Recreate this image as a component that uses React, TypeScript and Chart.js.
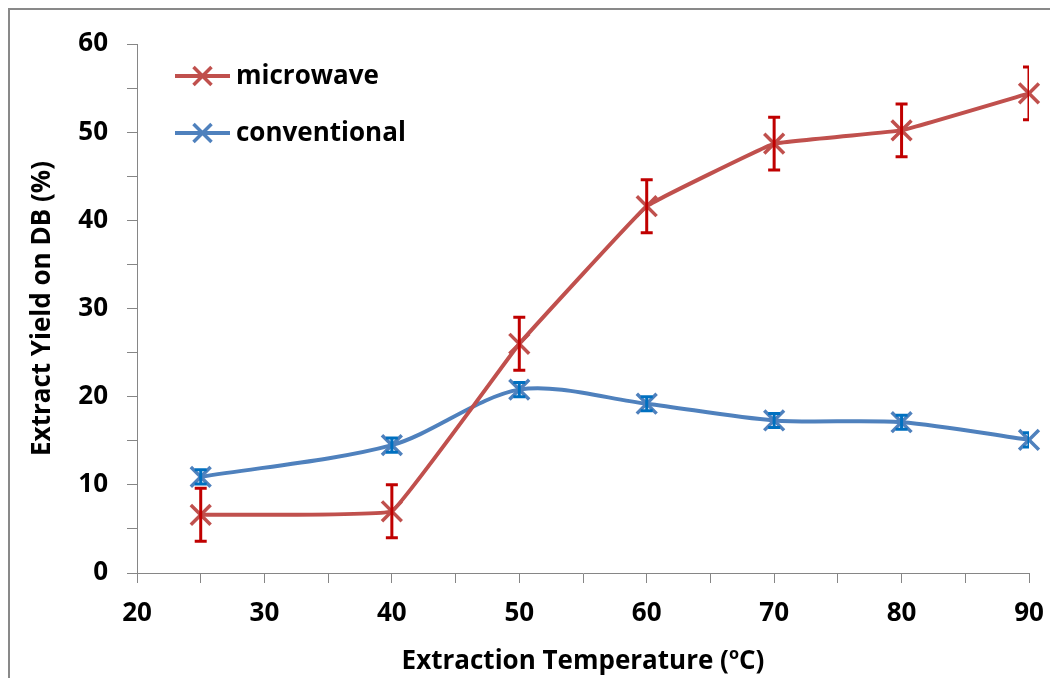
import React, { useEffect, useRef } from "react";
import { Chart, registerables } from "chart.js";

Chart.register(...registerables);

const temperatures = [25, 40, 50, 60, 70, 80, 90];
const microwaveYield = [6.6, 7.0, 26.0, 41.6, 48.7, 50.2, 54.4];
const microwaveError = [3, 3, 3, 3, 3, 3, 3];
const conventionalYield = [10.9, 14.5, 20.8, 19.2, 17.3, 17.1, 15.1];
const conventionalError = [0.8, 0.8, 0.8, 0.8, 0.8, 0.8, 0.8];
const seriesNames = ["microwave", "conventional"];
const xTitle = "Extraction Temperature (ºC)";
const yTitle = "Extract Yield on DB (%)";

const FONT = "'Open Sans', sans-serif";
const RED = "#C0504D";
const RED_ERR = "#C00000";
const BLUE = "#4F81BD";
const BLUE_ERR = "#0070C0";
const AXIS = "#868686";

const errorBarPlugin = {
  id: "errorBars",
  afterDatasetsDraw(chart: any) {
    const { ctx, chartArea, scales } = chart;
    const xs = scales.x;
    const ys = scales.y;
    const sets = [
      { vals: microwaveYield, errs: microwaveError, color: RED_ERR },
      { vals: conventionalYield, errs: conventionalError, color: BLUE_ERR },
    ];
    ctx.save();
    ctx.beginPath();
    ctx.rect(chartArea.left, chartArea.top - 20, chartArea.right - chartArea.left, chartArea.bottom - chartArea.top + 20);
    ctx.clip();
    sets.forEach((s) => {
      ctx.strokeStyle = s.color;
      ctx.lineWidth = 3;
      s.vals.forEach((v, i) => {
        const x = xs.getPixelForValue(temperatures[i]);
        const yt = ys.getPixelForValue(v + s.errs[i]);
        const yb = ys.getPixelForValue(v - s.errs[i]);
        ctx.beginPath();
        ctx.moveTo(x, yt);
        ctx.lineTo(x, yb);
        ctx.moveTo(x - 6, yt);
        ctx.lineTo(x + 6, yt);
        ctx.moveTo(x - 6, yb);
        ctx.lineTo(x + 6, yb);
        ctx.stroke();
      });
    });
    ctx.restore();
  },
};

const legendPlugin = {
  id: "innerLegend",
  afterDraw(chart: any) {
    const { ctx, chartArea } = chart;
    const items = [
      { name: seriesNames[0], color: RED, dy: 32 },
      { name: seriesNames[1], color: BLUE, dy: 89 },
    ];
    ctx.save();
    items.forEach((it) => {
      const x0 = chartArea.left + 38;
      const x1 = chartArea.left + 93;
      const y = chartArea.top + it.dy;
      const xm = (x0 + x1) / 2;
      ctx.strokeStyle = it.color;
      ctx.lineWidth = 4;
      ctx.beginPath();
      ctx.moveTo(x0, y);
      ctx.lineTo(x1, y);
      ctx.stroke();
      ctx.lineWidth = 3.5;
      ctx.beginPath();
      ctx.moveTo(xm - 9, y - 9);
      ctx.lineTo(xm + 9, y + 9);
      ctx.moveTo(xm - 9, y + 9);
      ctx.lineTo(xm + 9, y - 9);
      ctx.stroke();
      ctx.fillStyle = "#000";
      ctx.font = `bold 26px ${FONT}`;
      ctx.textBaseline = "middle";
      ctx.textAlign = "left";
      ctx.fillText(it.name, x1 + 6, y + 1);
    });
    ctx.restore();
  },
};

export default function App() {
  const ref = useRef<HTMLCanvasElement>(null);
  useEffect(() => {
    if (!ref.current) return;
    const tickFont = { family: FONT, weight: "bold" as const, size: 26 };
    const chart = new Chart(ref.current, {
      type: "line",
      data: {
        datasets: [
          {
            label: seriesNames[0],
            data: temperatures.map((t, i) => ({ x: t, y: microwaveYield[i] })),
            borderColor: RED,
            backgroundColor: RED,
            borderWidth: 4,
            pointStyle: "crossRot",
            pointRadius: 14,
            pointBorderWidth: 3.5,
            pointBorderColor: RED,
            tension: 0.06,
            clip: false as any,
          },
          {
            label: seriesNames[1],
            data: temperatures.map((t, i) => ({ x: t, y: conventionalYield[i] })),
            borderColor: BLUE,
            backgroundColor: BLUE,
            borderWidth: 4,
            pointStyle: "crossRot",
            pointRadius: 14,
            pointBorderWidth: 3.5,
            pointBorderColor: BLUE,
            tension: 0.3,
            clip: false as any,
          },
        ],
      },
      options: {
        responsive: false,
        animation: false,
        layout: { padding: { left: 0, right: 27, top: 34, bottom: 0 } },
        plugins: { legend: { display: false }, tooltip: { enabled: false } },
        scales: {
          x: {
            type: "linear",
            min: 20,
            max: 90,
            afterFit: (s: any) => {
              s.height = 105;
              s.paddingRight = 0;
              s.paddingLeft = 0;
            },
            border: { display: true, color: AXIS, width: 1 },
            grid: { display: true, drawOnChartArea: false, drawTicks: true, tickLength: 10, color: AXIS },
            ticks: {
              stepSize: 5,
              autoSkip: false,
              maxRotation: 0,
              padding: 15,
              color: "#000",
              font: tickFont,
              callback: (v: any) => (Number(v) % 10 === 0 ? String(v) : ""),
            },
            title: {
              display: true,
              text: xTitle,
              color: "#000",
              font: { family: FONT, weight: "bold", size: 26 },
              padding: { top: 0, bottom: 1 },
            },
          },
          y: {
            type: "linear",
            min: 0,
            max: 60,
            afterFit: (s: any) => {
              s.width = 127;
              s.paddingTop = 0;
              s.paddingBottom = 0;
            },
            border: { display: true, color: AXIS, width: 1 },
            grid: { display: true, drawOnChartArea: false, drawTicks: true, tickLength: 10, color: AXIS },
            ticks: {
              stepSize: 5,
              autoSkip: false,
              padding: 19,
              color: "#000",
              font: tickFont,
              callback: (v: any) => (Number(v) % 10 === 0 ? String(v) : ""),
            },
            title: {
              display: true,
              text: yTitle,
              color: "#000",
              font: { family: FONT, weight: "bold", size: 26 },
              padding: { top: 17, bottom: 0 },
            },
          },
        },
      },
      plugins: [errorBarPlugin, legendPlugin],
    });
    return () => chart.destroy();
  }, []);
  return (
    <div
      style={{
        width: 1046,
        height: 668,
        borderLeft: "2px solid #898989",
        borderTop: "2px solid #898989",
        background: "#fff",
      }}
    >
      <canvas ref={ref} width={1046} height={668} style={{ display: "block" }} />
    </div>
  );
}
